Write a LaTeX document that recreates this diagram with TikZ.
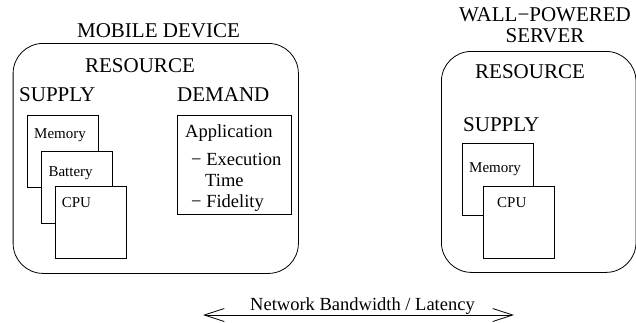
\documentclass[tikz,border=0pt]{standalone}
\usepackage{fontspec}
\setmainfont{Liberation Serif}
\usetikzlibrary{arrows.meta}
\tikzset{
  big/.style={font=\fontsize{21}{24}\selectfont, inner sep=0pt},
  mid/.style={font=\fontsize{18.5}{21}\selectfont, inner sep=0pt},
  small/.style={font=\fontsize{15}{18}\selectfont, inner sep=0pt},
  outer/.style={draw, line width=0.8pt, rounded corners=30pt, anchor=north west, inner sep=0pt},
  part/.style={draw, line width=0.8pt, fill=white, anchor=north west, inner sep=0pt, minimum width=71pt, minimum height=72pt},
  netarrow/.style={line width=0.8pt, {Straight Barb[length=20pt,width=13pt]}-{Straight Barb[length=20pt,width=13pt]}}
}
\begin{document}
\begin{tikzpicture}[x=1pt,y=-1pt]
\useasboundingbox (0,0) rectangle (636,322);
% mobile device
\node[big, anchor=base] (mdtitle) at (158.5,37) {MOBILE DEVICE};
\node[outer, minimum width=285.3pt, minimum height=230pt] (mobile) at (12.7,43) {};
\node[big, anchor=base] (mres) at (140,72) {RESOURCE};
\node[big, anchor=base west] (msup) at (19,101) {SUPPLY};
\node[big, anchor=base west] (mdem) at (177,101) {DEMAND};
\node[part] (mmem) at (27,115) {};
\node[small, anchor=base west] (mmemt) at (34,138.5) {Memory};
\node[part] (mbat) at (41,151) {};
\node[small, anchor=base west] (mbatt) at (48.3,176) {Battery};
\node[part] (mcpu) at (55,186) {};
\node[small, anchor=base west] (mcput) at (61.7,207) {CPU};
\node[draw, line width=0.8pt, anchor=north west, inner sep=0pt, minimum width=114pt, minimum height=99pt] (app) at (177,115) {};
\node[mid, anchor=base west] (appt) at (185,137.5) {Application};
\node[mid, anchor=base west] (exec) at (191,165) {− Execution};
\node[mid, anchor=base west] (time) at (205,186) {Time};
\node[mid, anchor=base west] (fid) at (191,207.5) {− Fidelity};
% server
\node[big, anchor=base] (stitle1) at (545,21) {WALL−POWERED};
\node[big, anchor=base] (stitle2) at (545,42) {SERVER};
\node[outer, minimum width=194.6pt, minimum height=221pt] (server) at (441,51) {};
\node[big, anchor=base west] (sres) at (475,78) {RESOURCE};
\node[big, anchor=base west] (ssup) at (463,131) {SUPPLY};
\node[part] (smem) at (462,143) {};
\node[small, anchor=base west] (smemt) at (469,172.5) {Memory};
\node[part] (scpu) at (483,186) {};
\node[small, anchor=base west] (scput) at (497,207) {CPU};
% network
\coordinate (netL) at (203,315);
\coordinate (netR) at (514,315);
\draw[netarrow] (netL) -- (netR);
\node[mid, anchor=base] (net) at (362.5,310) {Network Bandwidth / Latency};
\end{tikzpicture}
\end{document}
